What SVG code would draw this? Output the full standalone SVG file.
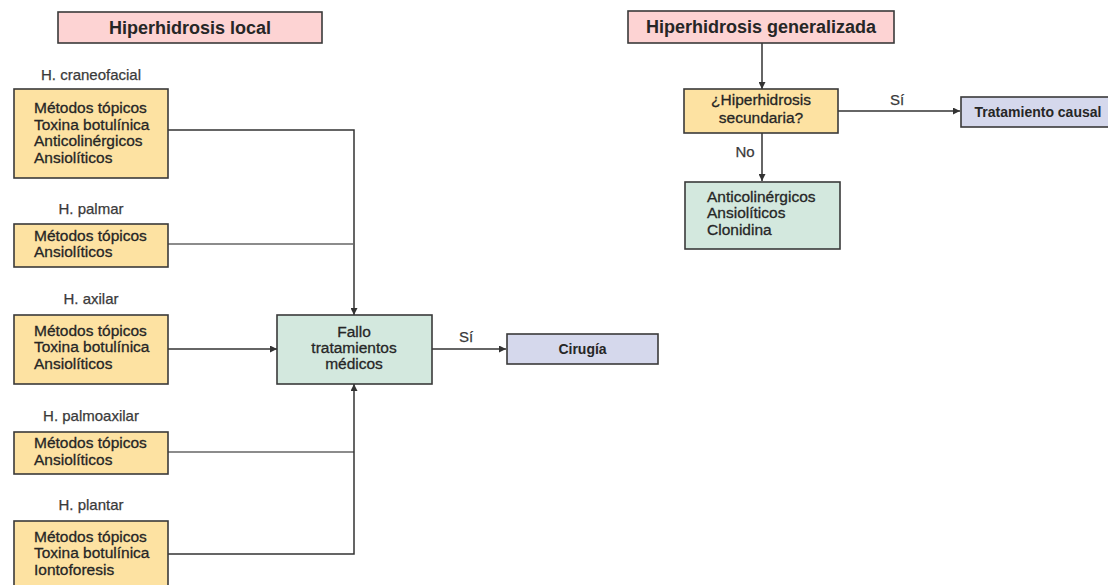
<svg xmlns="http://www.w3.org/2000/svg" width="1108" height="585" viewBox="0 0 1108 585">
<defs>
<marker id="arr" viewBox="0 0 10 10" refX="10" refY="5" markerWidth="7" markerHeight="7" markerUnits="userSpaceOnUse" orient="auto"><path d="M0,0 L10,5 L0,10 z" fill="#333"/></marker>
<style>
.box{stroke:#3a3a3a;stroke-width:1.6}
.pink{fill:#fdd3d3}.yel{fill:#fde2a2}.grn{fill:#d3e8de}.lav{fill:#d5d8ec}
text{font-family:"Liberation Sans",Arial,sans-serif;fill:#262626}
.t{font-size:18px;font-weight:bold}
.b{font-size:15.5px;stroke:#262626;stroke-width:0.3}
.lb{font-size:15px;fill:#3a3a3a;stroke:#3a3a3a;stroke-width:0.25}
.bb{font-size:14px;font-weight:bold}
.c{stroke:#333;stroke-width:1.5;fill:none}
.cl{stroke:#666;stroke-width:1.3;fill:none}
</style>
</defs>
<g id="connectors">
<polyline class="c" points="168,130 354,130 354,315" marker-end="url(#arr)"/>
<line class="cl" x1="168" y1="244" x2="354" y2="244"/>
<line class="c" x1="168" y1="349" x2="277" y2="349" marker-end="url(#arr)"/>
<line class="cl" x1="168" y1="452" x2="354" y2="452"/>
<polyline class="c" points="168,554 354,554 354,384" marker-end="url(#arr)"/>
<line class="c" x1="432" y1="349" x2="506" y2="349" marker-end="url(#arr)"/>
<text class="lb" x="466" y="342" text-anchor="middle">Sí</text>
<line class="c" x1="762" y1="43" x2="762" y2="89" marker-end="url(#arr)"/>
<line class="c" x1="838" y1="111" x2="960" y2="111" marker-end="url(#arr)"/>
<text class="lb" x="897" y="105" text-anchor="middle">Sí</text>
<line class="c" x1="762" y1="133" x2="762" y2="181" marker-end="url(#arr)"/>
<text class="lb" x="745" y="157" text-anchor="middle">No</text>
</g>
<g id="local">
<rect class="box pink" x="58" y="12" width="264" height="31"/>
<text class="t" x="190" y="34" text-anchor="middle">Hiperhidrosis local</text>
</g>
<g id="craneofacial">
<text class="lb" x="91" y="80" text-anchor="middle">H. craneofacial</text>
<rect class="box yel" x="14" y="89" width="154" height="89"/>
<text class="b" x="34" y="113">Métodos tópicos</text>
<text class="b" x="34" y="129.5">Toxina botulínica</text>
<text class="b" x="34" y="146">Anticolinérgicos</text>
<text class="b" x="34" y="162.5">Ansiolíticos</text>
</g>
<g id="palmar">
<text class="lb" x="91" y="214" text-anchor="middle">H. palmar</text>
<rect class="box yel" x="14" y="224" width="154" height="43"/>
<text class="b" x="34" y="241">Métodos tópicos</text>
<text class="b" x="34" y="257">Ansiolíticos</text>
</g>
<g id="axilar">
<text class="lb" x="91" y="304" text-anchor="middle">H. axilar</text>
<rect class="box yel" x="14" y="315" width="154" height="69"/>
<text class="b" x="34" y="336">Métodos tópicos</text>
<text class="b" x="34" y="352">Toxina botulínica</text>
<text class="b" x="34" y="369">Ansiolíticos</text>
</g>
<g id="palmoaxilar">
<text class="lb" x="91" y="421" text-anchor="middle">H. palmoaxilar</text>
<rect class="box yel" x="14" y="432" width="154" height="42"/>
<text class="b" x="34" y="448">Métodos tópicos</text>
<text class="b" x="34" y="465">Ansiolíticos</text>
</g>
<g id="plantar">
<text class="lb" x="91" y="510" text-anchor="middle">H. plantar</text>
<rect class="box yel" x="14" y="521" width="154" height="70"/>
<text class="b" x="34" y="542">Métodos tópicos</text>
<text class="b" x="34" y="558">Toxina botulínica</text>
<text class="b" x="34" y="575">Iontoforesis</text>
</g>
<g id="fallo">
<rect class="box grn" x="277" y="315" width="155" height="69"/>
<text class="b" x="354" y="337" text-anchor="middle">Fallo</text>
<text class="b" x="354" y="353" text-anchor="middle">tratamientos</text>
<text class="b" x="354" y="369" text-anchor="middle">médicos</text>
</g>
<g id="cirugia">
<rect class="box lav" x="507" y="334" width="151" height="30"/>
<text class="bb" x="582.5" y="354" text-anchor="middle">Cirugía</text>
</g>
<g id="generalizada">
<rect class="box pink" x="628" y="11" width="266" height="32"/>
<text class="t" x="761" y="33" text-anchor="middle">Hiperhidrosis generalizada</text>
</g>
<g id="secundaria">
<rect class="box yel" x="684" y="89" width="154" height="44"/>
<text class="b" x="761" y="105" text-anchor="middle">¿Hiperhidrosis</text>
<text class="b" x="761" y="123" text-anchor="middle">secundaria?</text>
</g>
<g id="causal">
<rect class="box lav" x="961" y="97" width="152" height="30"/>
<text class="bb" x="1038" y="117" text-anchor="middle">Tratamiento causal</text>
</g>
<g id="generalizada-tratamiento">
<rect class="box grn" x="685" y="182" width="155" height="67"/>
<text class="b" x="707" y="202">Anticolinérgicos</text>
<text class="b" x="707" y="218">Ansiolíticos</text>
<text class="b" x="707" y="235">Clonidina</text>
</g>
</svg>
